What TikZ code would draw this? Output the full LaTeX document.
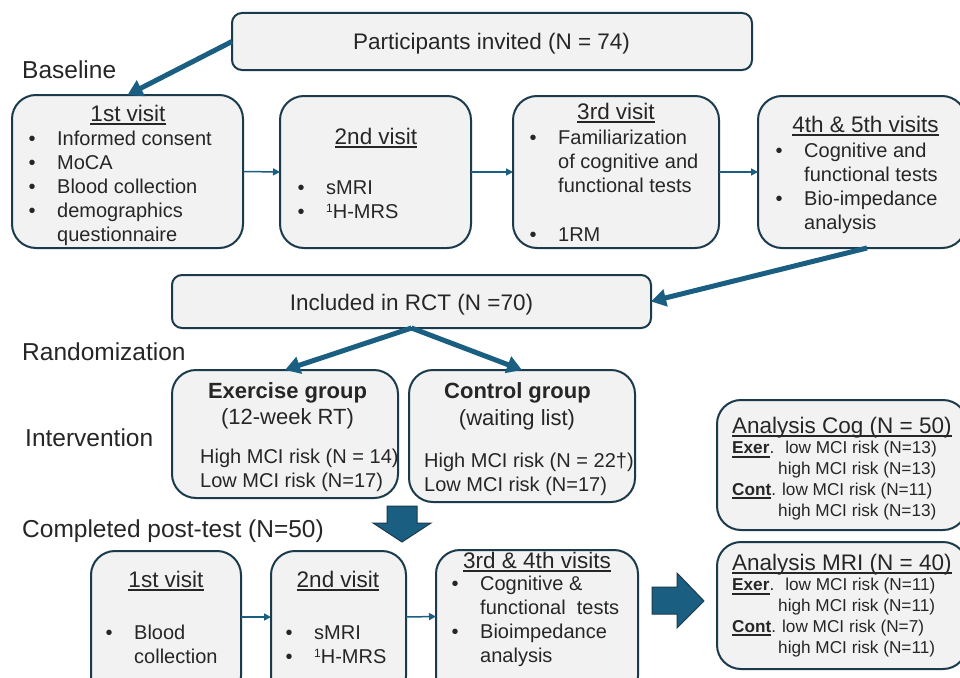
\documentclass[tikz,border=0pt]{standalone}
\usepackage{fontspec}
\setmainfont{Liberation Sans}
\usetikzlibrary{arrows.meta,calc}
\definecolor{boxfill}{HTML}{F2F2F2}
\definecolor{boxline}{HTML}{1B3A4B}
\definecolor{arrowc}{HTML}{1A5E82}
\definecolor{txtc}{HTML}{262626}
\newcommand\myul[2][1.3pt]{\setbox0\hbox{#2}\rlap{\rule[-3.6pt]{\wd0}{#1}}\box0}
\newcommand\bu{\makebox[28.5pt][l]{•}}
\newcommand\ind{\hspace*{28.5pt}}
\newcommand\supone{\raisebox{6pt}{\fontsize{12}{12}\selectfont 1}}
\newcommand\fa{\fontsize{20}{24}\selectfont}
\newcommand\fb{\fontsize{22.5}{27}\selectfont}
\newcommand\fc{\fontsize{24.5}{29}\selectfont}
\newcommand\fd{\fontsize{17.2}{20.7}\selectfont}
\begin{document}
\begin{tikzpicture}[x=1pt,y=-1pt,text=txtc,
  box/.style={draw=boxline,line width=2pt,fill=boxfill,rounded corners=24pt,inner sep=0pt,outer sep=0pt},
  sbox/.style={box,rounded corners=10pt},
  fat/.style={draw=arrowc,line width=5pt,-{Triangle[length=15pt,width=17pt]}},
  thinarr/.style={draw=arrowc,line width=1.5pt,-{Triangle[length=7pt,width=7pt]}},
  block/.style={fill=arrowc,draw=boxline,line width=1pt,line join=miter},
  tl/.style={inner sep=0pt,anchor=base west,align=left},
  tc/.style={inner sep=0pt,anchor=base}]
\useasboundingbox (0,0) rectangle (960,677);
\clip (0,0) rectangle (960,677);
\fill[white] (0,0) rectangle (960,677);

% boxes
\node[sbox,minimum width=520pt,minimum height=57pt] (P) at (492,41.5) {};
\node[box,minimum width=231pt,minimum height=153pt] (v1) at (127.5,171.5) {};
\node[box,minimum width=191pt,minimum height=152pt] (v2) at (375.5,172) {};
\node[box,minimum width=206pt,minimum height=152pt] (v3) at (616,172) {};
\node[box,minimum width=208pt,minimum height=152pt] (v4) at (862,172) {};
\node[sbox,minimum width=479pt,minimum height=53pt] (Inc) at (411.5,301.5) {};
\node[box,minimum width=226pt,minimum height=128pt] (Ex) at (285,434) {};
\node[box,minimum width=226pt,minimum height=132pt] (Co) at (522,436) {};
\node[box,minimum width=250pt,minimum height=130pt] (AC) at (842,465) {};
\node[box,minimum width=250pt,minimum height=127pt] (AM) at (842,605.5) {};
\node[box,minimum width=150pt,minimum height=149pt] (Q1) at (166,625.5) {};
\node[box,minimum width=135pt,minimum height=149pt] (Q2) at (338.5,625.5) {};
\node[box,minimum width=202pt,minimum height=150pt] (Q3) at (537,625) {};

% side labels
\node[tl,font=\fc] (lbase) at (22,78) {Baseline};
\node[tl,font=\fc] (lrand) at (22,360) {Randomization};
\node[tl,font=\fc] (lint) at (25,446) {Intervention};
\node[tl,font=\fc] (lpost) at (22,537) {Completed post-test (N=50)};

% top (multi-line nodes are placed by the baseline of their last line)
\node[tc,font=\fb] (Pt) at (491.5,50) {Participants invited (N = 74)};
\node[tc,font=\fb] (v1t) at (128,121) {\myul{1st visit}};
\node[tl,font=\fa] (v1b) at (28.5,241) {\bu Informed consent\\ \bu MoCA\\ \bu Blood collection\\ \bu demographics\\ \ind questionnaire};
\node[tc,font=\fb] (v2t) at (376,144) {\myul{2nd visit}};
\node[tl,font=\fa] (v2b) at (297.5,218.5) {\bu sMRI\\ \bu \supone H-MRS};
\node[tc,font=\fb] (v3t) at (616,119) {\myul{3rd visit}};
\node[tl,font=\fa] (v3b) at (529.5,192) {\bu Familiarization\\ \ind of cognitive and\\ \ind functional tests};
\node[tl,font=\fa] (v3c) at (529.5,241) {\bu 1RM};
\node[tc,font=\fb] (v4t) at (865.5,132) {\myul{4th \& 5th visits}};
\node[tl,font=\fa] (v4b) at (775.5,229) {\bu Cognitive and\\ \ind functional tests\\ \bu Bio-impedance\\ \ind analysis};

% RCT
\node[tc,font=\fb] (Inct) at (411.5,310) {Included in RCT (N =70)};
\node[tc,font=\fontsize{22}{26}\selectfont\bfseries] (Ext) at (287.5,398) {Exercise group};
\node[tc,font=\fontsize{22}{26}\selectfont] (Ext2) at (287.5,424) {(12-week RT)};
\node[tl,font=\fa] (Exb) at (200,487) {High MCI risk (N = 14)\\Low MCI risk (N=17)};
\node[tc,font=\fontsize{22}{26}\selectfont\bfseries] (Cot) at (517.5,398) {Control group};
\node[tc,font=\fontsize{22}{26}\selectfont] (Cot2) at (517,425) {(waiting list)};
\node[tl,font=\fa] (Cob) at (424,491) {High MCI risk (N = 22†)\\Low MCI risk (N=17)};

% analysis
\node[tl,font=\fb] (ACt) at (732,433) {\myul{Analysis Cog (N = 50)}};
\node[tl,font=\fd] (ACb) at (732,516) {\myul[1.8pt]{\textbf{Exer}}.\hspace{11pt}low MCI risk (N=13)\\ \hspace*{46pt}high MCI risk (N=13)\\ \myul[1.8pt]{\textbf{Cont}}.\hspace{6pt}low MCI risk (N=11)\\ \hspace*{46pt}high MCI risk (N=13)};
\node[tl,font=\fb] (AMt) at (732,570) {\myul{Analysis MRI (N = 40)}};
\node[tl,font=\fd] (AMb) at (732,653) {\myul[1.8pt]{\textbf{Exer}}.\hspace{11pt}low MCI risk (N=11)\\ \hspace*{46pt}high MCI risk (N=11)\\ \myul[1.8pt]{\textbf{Cont}}.\hspace{6pt}low MCI risk (N=7)\\ \hspace*{46pt}high MCI risk (N=11)};

% post-test
\node[tc,font=\fb] (Q1t) at (166,587) {\myul{1st visit}};
\node[tl,font=\fa] (Q1b) at (105.5,663) {\bu Blood\\ \ind collection};
\node[tc,font=\fb] (Q2t) at (338,587) {\myul{2nd visit}};
\node[tl,font=\fa] (Q2b) at (285.5,663.5) {\bu sMRI\\ \bu \supone H-MRS};
\node[tc,font=\fb] (Q3t) at (537,568) {\myul{3rd \& 4th visits}};
\node[tl,font=\fa] (Q3b) at (451.5,662) {\bu Cognitive \&\\ \ind functional\ \ tests\\ \bu Bioimpedance\\ \ind analysis};

% connectors
\draw[fat] (P.west) -- (v1.north);
\draw[thinarr] (v1.east) -- (v2.west);
\draw[thinarr] (v2.east) -- (v3.west);
\draw[thinarr] (v3.east) -- (v4.west);
\draw[fat] ([xshift=5pt]v4.south) -- (Inc.east);
\draw[fat] (Inc.south) -- (Ex.north);
\draw[fat] (Inc.south) -- (Co.north);
\draw[thinarr] ([yshift=8.5pt]Q1.east) -- ([yshift=8.5pt]Q2.west);
\draw[thinarr] ([yshift=8.5pt]Q2.east) -- ([yshift=8.5pt]Q3.west);

% block arrows
\draw[block] (387,506) -- (417,506) -- (417,523) -- (431,523) -- (402,542) -- (373,523) -- (387,523) -- cycle;
\draw[block] (652,587) -- (677,587) -- (677,573) -- (704,601) -- (677,628) -- (677,614) -- (652,614) -- cycle;
\end{tikzpicture}
\end{document}
